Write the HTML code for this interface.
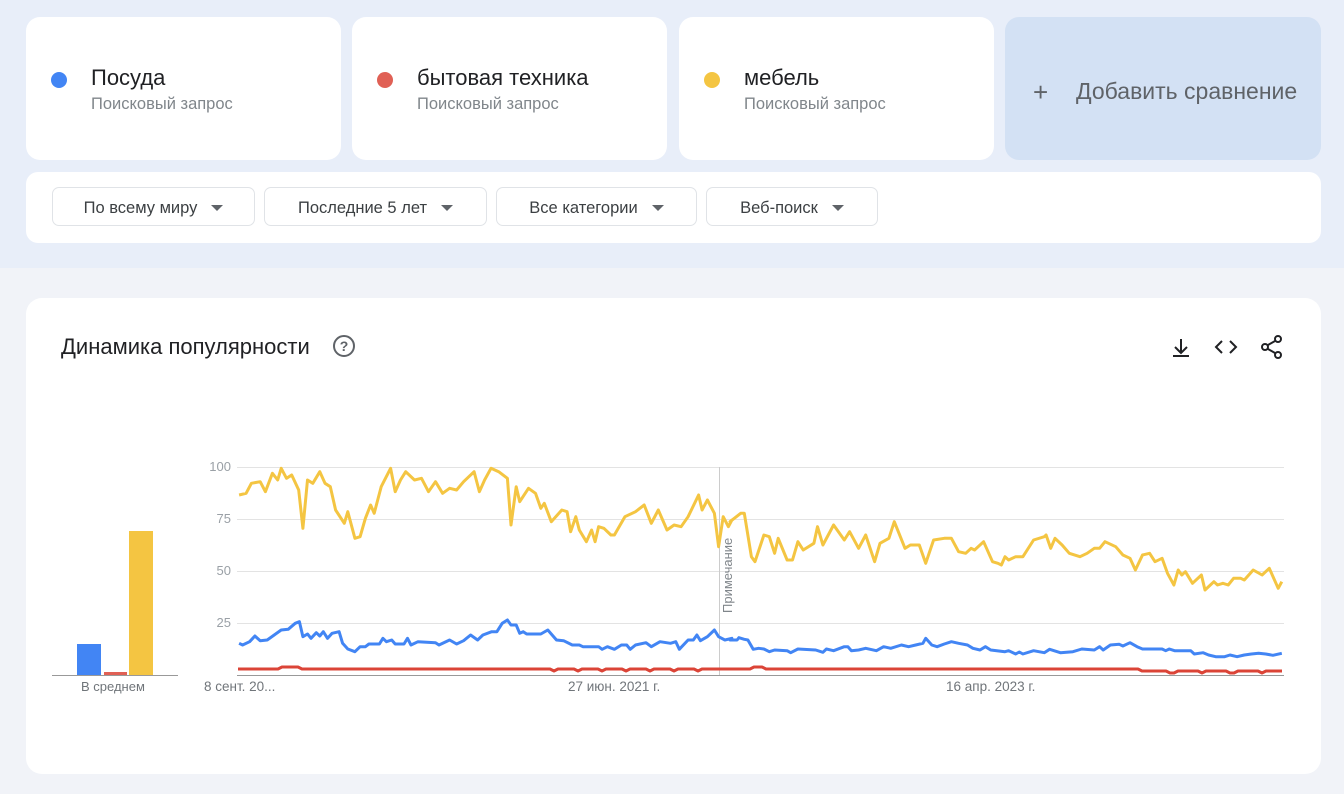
<!DOCTYPE html>
<html><head><meta charset="utf-8"><style>
*{box-sizing:border-box;margin:0;padding:0}
body{width:1344px;height:794px;background:#f1f3f8;font-family:"Liberation Sans",sans-serif;position:relative;overflow:hidden}
.top{position:absolute;left:0;top:0;width:1344px;height:268px;background:#e8eef9}
.card{position:absolute;background:#fff;border-radius:14px}
.term{top:17px;width:315px;height:143px}
.dot{position:absolute;left:25px;top:55px;width:16px;height:16px;border-radius:50%}
.tn{position:absolute;left:65px;top:48px;font-size:22px;color:#202124}
.ts{position:absolute;left:65px;top:78px;font-size:16.5px;color:#80868b}
.btn{position:absolute;top:187px;height:39px;border:1px solid #e0e3e7;border-radius:7px;font-size:16.5px;color:#3c4043;text-align:center;line-height:40px}
.tri{display:inline-block;width:0;height:0;border-left:6px solid transparent;border-right:6px solid transparent;border-top:6px solid #5f6368;margin-left:14px;vertical-align:2px}
</style></head><body>
<div class="top"></div>
<div class="card term" style="left:26px"><div class="dot" style="background:#4285f4"></div><div class="tn">Посуда</div><div class="ts">Поисковый запрос</div></div>
<div class="card term" style="left:352px"><div class="dot" style="background:#e06055"></div><div class="tn">бытовая техника</div><div class="ts">Поисковый запрос</div></div>
<div class="card term" style="left:679px"><div class="dot" style="background:#f4c542"></div><div class="tn">мебель</div><div class="ts">Поисковый запрос</div></div>
<div class="card" style="left:1005px;top:17px;width:316px;height:143px;background:#d3e1f4"><div style="position:absolute;left:28px;top:60px;font-size:26px;color:#5f6368;font-weight:300">+</div><div style="position:absolute;left:71px;top:61px;font-size:23px;color:#5f6368">Добавить сравнение</div></div>
<div class="card" style="left:26px;top:172px;width:1295px;height:71px;border-radius:12px"></div>
<div class="btn" style="left:52px;width:203px">По всему миру<span class="tri"></span></div>
<div class="btn" style="left:264px;width:223px">Последние 5 лет<span class="tri"></span></div>
<div class="btn" style="left:496px;width:201px">Все категории<span class="tri"></span></div>
<div class="btn" style="left:706px;width:172px">Веб-поиск<span class="tri"></span></div>
<div class="card" style="left:26px;top:298px;width:1295px;height:476px;border-radius:16px"></div>
<div style="position:absolute;left:61px;top:334px;font-size:22px;color:#202124">Динамика популярности</div>
<div style="position:absolute;left:333px;top:335px;width:22px;height:22px;border:2px solid #5f6368;border-radius:50%;font-size:14px;font-weight:bold;color:#5f6368;text-align:center;line-height:19px">?</div>
<svg style="position:absolute;left:0;top:0" width="1344" height="794">
<g stroke="#202124" stroke-width="2" fill="none">
<path d="M1181 339v13M1175 347l6 6 6-6M1173 356h16"/>
<path d="M1222 341l-6 6 6 6M1230 341l6 6-6 6"/>
</g>
<g fill="none" stroke="#202124" stroke-width="2"><circle cx="1278" cy="339" r="3"/><circle cx="1265" cy="347" r="3"/><circle cx="1278" cy="355" r="3"/><path d="M1268 345l7-4M1268 349l7 4"/></g>
<g stroke="#e3e3e3" stroke-width="1"><line x1="237" x2="1284" y1="467.5" y2="467.5"/><line x1="237" x2="1284" y1="519.5" y2="519.5"/><line x1="237" x2="1284" y1="571.5" y2="571.5"/><line x1="237" x2="1284" y1="623.5" y2="623.5"/></g>
<line x1="237" x2="1284" y1="675.5" y2="675.5" stroke="#999"/>
<line x1="52" x2="178" y1="675.5" y2="675.5" stroke="#999"/>
<line x1="719.5" x2="719.5" y1="467" y2="675" stroke="#ccc"/>
<rect x="77" y="644" width="24" height="31" fill="#4285f4"/>
<rect x="104" y="672" width="23" height="3" fill="#e06055"/>
<rect x="129" y="531" width="24" height="144" fill="#f4c542"/>
<g id="lines" fill="none" stroke-width="3" stroke-linejoin="round"></g>
<g font-family="Liberation Sans,sans-serif" font-size="13" fill="#9aa0a6" text-anchor="end">
<text x="231" y="471">100</text><text x="231" y="523">75</text><text x="231" y="575">50</text><text x="231" y="627">25</text></g>
<text x="732" y="613" transform="rotate(-90 732 613)" font-family="Liberation Sans,sans-serif" font-size="13" fill="#80868b">Примечание</text>
<g font-family="Liberation Sans,sans-serif" font-size="13.5" fill="#70757a"><text x="204" y="691">8 сент. 20...</text><text x="568" y="691">27 июн. 2021 г.</text><text x="946" y="691">16 апр. 2023 г.</text><text x="81" y="691" font-size="13">В среднем</text></g>
</svg>
<script>
var y1=[140,135,160,130,175,100,200,95,215,125,235,70,250,90,260,55,275,85,290,75,310,120,322,235,335,90,350,100,370,65,385,100,400,110,415,180,440,220,450,185,470,265,485,260,500,205,515,165,525,190,545,110,572,55,585,125,600,90,615,65,640,90,660,85,680,125,700,95,720,130,740,115,760,120,780,95,810,65,825,125,840,90,858,55,880,65,905,85,915,225,930,110,940,155,965,115,985,130,1000,175,1010,160,1030,215,1060,180,1075,185,1085,245,1100,200,1110,240,1130,275,1145,240,1155,275,1165,230,1180,235,1200,255,1210,255,1240,200,1270,185,1295,165,1315,220,1335,180,1360,240,1380,225,1400,230,1420,200,1450,135,1460,180,1475,150,1495,190,1507,290,1520,200,1535,230,1545,210];
var y2=[0,215,30,190,40,190,60,320,70,335,95,255,110,260,125,310,135,265,160,330,175,330,190,275,205,300,235,280,245,230,260,285,290,225,320,270,335,245,360,295,380,255,405,335,420,280,445,265,460,215,490,295,505,285,530,285,548,340,570,270,600,265,620,265,640,305,660,310,675,295,685,300,710,275,735,335,750,340,760,345,770,320,780,330,800,320,820,320,850,270,880,260,885,255,898,295,910,265,930,285,950,310,980,320,1000,310,1020,295,1035,295,1050,275,1080,290,1100,315,1120,325,1135,360,1155,315,1175,310,1190,335,1210,325,1225,370,1243,405,1255,360,1265,375,1275,365,1295,400,1320,375,1330,420,1355,395,1365,405,1380,400,1395,405,1410,385,1430,385,1440,390,1465,360,1490,375,1510,355,1535,415,1545,395];
var b1=[140,580,150,585,170,575,185,558,200,572,220,570,240,555,260,540,280,538,300,520,312,515,322,560,335,552,345,565,360,548,370,558,380,545,392,565,405,550,425,545,435,580,450,597,470,605,485,590,500,590,510,582,540,582,550,565,560,575,575,570,585,582,610,582,620,565,630,585,650,575,700,578,710,585,740,570,760,582,780,572,800,555,820,570,835,555,860,545,875,545,890,520,905,510,915,525,930,525,940,550,950,545,960,552,1000,552,1020,540,1045,570,1065,572,1090,585,1110,585,1120,590,1165,590,1175,598,1190,590,1210,598,1230,585,1245,585,1255,598,1270,585,1300,578,1315,590,1340,575,1370,580,1385,575,1395,598,1420,570,1435,570,1445,555,1455,572,1475,560,1495,540,1507,560,1525,570,1545,565];
var b2=[0,570,20,570,25,563,40,568,50,570,65,598,80,595,95,597,110,605,125,600,160,602,170,608,190,597,240,600,260,607,270,597,290,602,320,590,330,590,340,602,360,600,380,595,410,602,430,590,450,595,480,585,500,590,520,585,540,580,548,565,565,585,580,590,600,582,620,575,640,580,665,585,680,595,700,600,715,590,730,600,770,605,780,602,800,612,810,606,820,612,850,602,880,608,895,598,925,608,960,605,985,597,1020,600,1035,590,1045,600,1065,585,1090,583,1100,588,1120,578,1140,590,1155,597,1210,597,1220,602,1230,597,1245,602,1290,602,1300,612,1325,608,1340,615,1360,620,1385,620,1400,615,1420,620,1440,615,1460,612,1480,610,1500,612,1520,616,1545,610];
function cv(a,ox,sx){var s=[];for(var i=0;i<a.length;i+=2)s.push((ox+a[i]/sx).toFixed(1)+","+(450+a[i+1]/3).toFixed(1));return s;}
var s1=1568/550,s2=1568/560;
var Y=cv(y1,190,s1).concat(cv(y2,730,s2)),B=cv(b1,190,s1).concat(cv(b2,730,s2));
var R=[];for(var x=238;x<=1283;x+=4){var y=669;if(x>1140)y=671;if((x>280&&x<300))y=667;if(x>750&&x<765)y=667;if(x>550&&x<720&&(x%24<6))y=671;if(x>1160&&x%30<5)y=673;R.push(x+","+y);}
var g=document.getElementById("lines");
function pl(p,c){var e=document.createElementNS("http://www.w3.org/2000/svg","polyline");e.setAttribute("points",p.join(" "));e.setAttribute("stroke",c);g.appendChild(e);}
pl(R,"#db4437");pl(B,"#4285f4");pl(Y,"#f4c542");
</script>
</body></html>
